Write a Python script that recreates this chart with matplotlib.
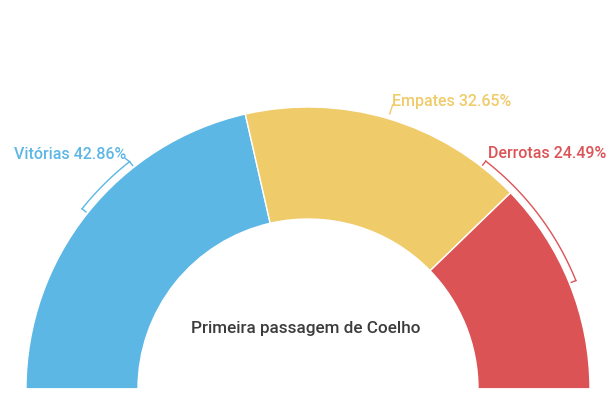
import matplotlib.pyplot as plt
import numpy as np

plt.rcParams['font.family'] = ['Roboto', 'DejaVu Sans']

# data
labels = ['Vitórias', 'Empates', 'Derrotas']
values = [42.86, 32.65, 24.49]
colors = ['#5db7e5', '#efcb6a', '#dc5356']
title = 'Primeira passagem de Coelho'

# layout (pixel units, y up)
W, H = 614, 397
cx, cy = 308, 8
r_out = 282
r_in = 170
r_br = 289
# how far the label bracket runs from the slice middle (degrees, toward top)
br_ext = [13.3, 0, 30]
fs = 11.5

fig = plt.figure(figsize=(W / 100, H / 100), dpi=100)
ax = fig.add_axes([0, 0, 1, 1])

total = sum(values)
ax.pie(values + [total], colors=colors + ['none'], startangle=180,
       counterclock=False, radius=r_out, center=(cx, cy),
       wedgeprops=dict(width=r_out - r_in, edgecolor='white', linewidth=1))

ax.set_xlim(0, W)
ax.set_ylim(0, H)
ax.set_aspect('equal')
ax.axis('off')

# label brackets
start = 180
for lab, v, col, ext in zip(labels, values, colors, br_ext):
    a0 = start - v / total * 180 / 2  # slice middle
    start -= v / total * 180
    pct = f'{lab} {v:.2f}%'
    if ext > 0:
        if a0 < 90:
            t = np.radians(np.linspace(a0, a0 + ext, 40))
        else:
            t = np.radians(np.linspace(a0, a0 - ext, 40))
        xs = cx + r_br * np.cos(t)
        ys = cy + r_br * np.sin(t)
        # ticks pointing inward at both ends
        for tt in (t[0], t[-1]):
            ax.plot([cx + r_br * np.cos(tt), cx + (r_br - 5) * np.cos(tt)],
                    [cy + r_br * np.sin(tt), cy + (r_br - 5) * np.sin(tt)],
                    color=col, lw=1)
        ax.plot(xs, ys, color=col, lw=1)
        ex, ey = xs[-1], ys[-1]
        if a0 > 90:
            ax.plot([ex, ex - 4], [ey, ey + 3], color=col, lw=1)
            ax.text(ex - 3, ey + 7, pct, color=col, fontsize=fs,
                    fontweight='medium', ha='right', va='center')
        else:
            ax.text(ex + 2, ey + 7.5, pct, color=col, fontsize=fs,
                    fontweight='medium', ha='left', va='center')
    else:
        t = np.radians(a0)
        x1, y1 = cx + 287 * np.cos(t), cy + 287 * np.sin(t)
        x2, y2 = x1 + 3, y1 + 9
        ax.plot([x1, x2], [y1, y2], color=col, lw=1)
        ax.text(x2 - 1, y2 + 3.5, pct, color=col, fontsize=fs,
                fontweight='medium', ha='left', va='center')

ax.text(306, 69, title, color='#3c3c3c', fontsize=12.3, fontweight='medium',
        ha='center', va='center')

fig.savefig('out.png', dpi=100, facecolor='white')
